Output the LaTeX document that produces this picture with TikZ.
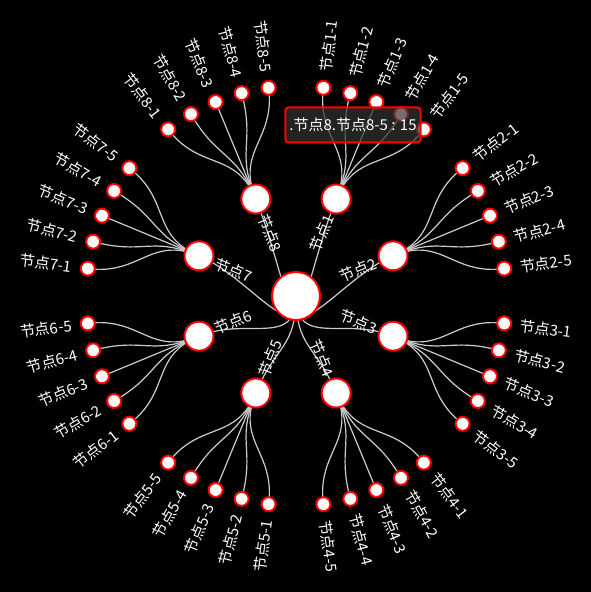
\documentclass[tikz,border=0pt]{standalone}
\usepackage{fontspec}
\setmainfont{Noto Sans CJK SC}
\usepackage{tikz}
\usetikzlibrary{calc}
\definecolor{nodeR}{HTML}{FF0000}
\definecolor{linkG}{HTML}{CCCCCC}
\definecolor{tipG}{HTML}{323232}
\pgfdeclarelayer{bg}
\pgfdeclarelayer{links}
\pgfsetlayers{bg,links,main}
\tikzset{
  dot/.style={circle,fill=white,draw=nodeR,line width=2pt,inner sep=0pt},
  rootdot/.style={dot,minimum size=48pt},
  middot/.style={dot,minimum size=29pt},
  leafdot/.style={dot,minimum size=14pt},
  link/.style={draw=linkG,line width=1.2pt},
  lbl/.style={text=white,inner sep=0pt,font=\fontsize{15}{18}\selectfont},
  tipbox/.style={draw=nodeR,line width=2pt,fill=tipG,fill opacity=.7,text opacity=1,
    text=white,rounded corners=3pt,minimum width=135pt,minimum height=35pt,
    inner sep=0pt,font=\fontsize{15}{18}\selectfont}
}

\begin{document}
\begin{tikzpicture}[x=1pt,y=1pt]
\useasboundingbox (-296,-296) rectangle (295,296);
\begin{pgfonlayer}{bg}
  \fill[black] (-296,-296) rectangle (295,296);
\end{pgfonlayer}
\node[rootdot] (root) at (0,0) {};
\foreach \g in {1,...,8}{
  \pgfmathsetmacro{\a}{112.5-45*\g}
  \pgfmathsetmacro{\ca}{cos(\a)}
  \node[middot] (m\g) at (\a:105) {};
  \begin{pgfonlayer}{links}
    \draw[link] (root.center) .. controls (270:52.5) and (\a:52.5) .. (m\g.center);
  \end{pgfonlayer}
  \ifdim\ca pt>0pt
    \node[lbl,anchor=east,rotate=\a] (t\g) at (\a:87) {节点\g};
  \else
    \node[lbl,anchor=west,rotate=\a+180] (t\g) at (\a:87) {节点\g};
  \fi
  \foreach \j in {1,...,5}{
    \pgfmathsetmacro{\b}{\a+22.5-7.5*\j}
    \node[leafdot] (l\g\j) at (\b:210) {};
    \begin{pgfonlayer}{links}
      \draw[link] (m\g.center) .. controls (\a:157.5) and (\b:157.5) .. (l\g\j.center);
    \end{pgfonlayer}
    \ifdim\ca pt>0pt
      \node[lbl,anchor=west,rotate=\b] (t\g\j) at (\b:226) {节点\g-\j};
    \else
      \node[lbl,anchor=east,rotate=\b+180] (t\g\j) at (\b:226) {节点\g-\j};
    \fi
  }
}
% tooltip over node 1-4
\node[tipbox] (tip) at (57,171) {.节点8.节点8-5 : 15};
\end{tikzpicture}
\end{document}
